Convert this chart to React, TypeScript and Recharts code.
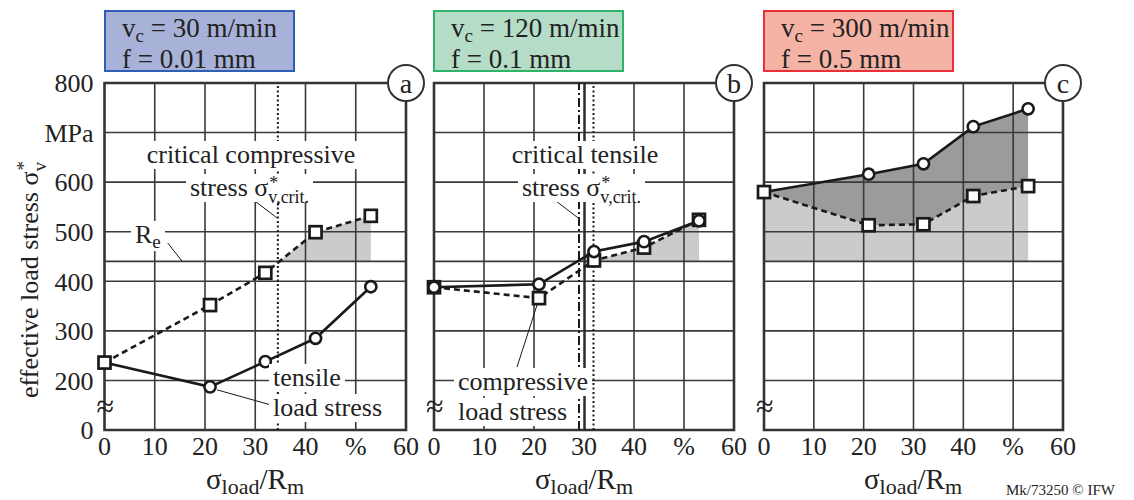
import React from "react";
import {
  ComposedChart,
  Line,
  Area,
  XAxis,
  YAxis,
  ReferenceLine,
  ReferenceArea,
  ReferenceDot,
} from "recharts";

const FONT = '"Liberation Serif", "DejaVu Serif", serif';
const INK = "#1a1a1a";
const GRID = "#3a3a3a";

// x positions: load stress ratio in %
const loadRatio = [0, 21, 32, 42, 53];

// effective load stress in MPa
const tensileA = [236, 187, 238, 285, 389];
const compressiveA = [236, 352, 417, 499, 532];
const tensileB = [388, 394, 460, 480, 522];
const compressiveB = [388, 366, 442, 468, 524];
const tensileC = [580, 616, 637, 712, 748];
const compressiveC = [580, 513, 515, 572, 592];

const xTicks = [0, 10, 20, 30, 40, 50, 60];
const yTicks = [100, 200, 300, 400, 500, 600, 700, 800];
const yieldStrength = 440; // R_e

const critA = 34.5;
const critB = [29.0, 30.2, 31.9];

const toRows = (tens: number[], comp: number[]) =>
  loadRatio.map((x, i) => ({ x, tens: tens[i], comp: comp[i] }));

const Square = (props: any) => {
  const { cx, cy } = props;
  if (cx == null || cy == null) return null;
  return (
    <rect
      key={`sq-${cx}-${cy}`}
      x={cx - 6}
      y={cy - 6}
      width={12}
      height={12}
      fill="#fff"
      stroke={INK}
      strokeWidth={2.7}
    />
  );
};

const circleDot = { r: 5.6, fill: "#fff", stroke: INK, strokeWidth: 2.6 };

interface PanelProps {
  left: number;
  width: number;
  marginLeft: number;
  marginRight: number;
  showY: boolean;
  rows: { x: number; tens: number; comp: number }[];
  letter: string;
  darkBand?: boolean;
  circlesOnTop?: boolean;
  children?: React.ReactNode;
}

function Panel({ left, width, marginLeft, marginRight, showY, rows, letter, darkBand, circlesOnTop, children }: PanelProps) {
  const tensLine = (
    <Line
      key="tens"
      dataKey="tens"
      stroke={INK}
      strokeWidth={2.6}
      dot={circleDot}
      activeDot={false}
      isAnimationActive={false}
    />
  );
  const compLine = (
    <Line
      key="comp"
      dataKey="comp"
      stroke={INK}
      strokeWidth={2.6}
      strokeDasharray="6 4"
      dot={<Square />}
      activeDot={false}
      isAnimationActive={false}
    />
  );
  return (
    <div style={{ position: "absolute", left, top: 0 }}>
      <ComposedChart
        width={width}
        height={500}
        data={rows}
        margin={{ top: 83, right: marginRight, bottom: 40, left: marginLeft }}
      >
        <XAxis
          type="number"
          dataKey="x"
          domain={[0, 60]}
          ticks={xTicks}
          tickFormatter={(v) => (v === 50 ? "%" : String(v))}
          axisLine={false}
          tickLine={false}
          tickSize={0}
          tickMargin={7}
          height={30}
          tick={{ fill: "#222", fontSize: 26, fontFamily: FONT }}
        />
        <YAxis
          type="number"
          domain={[100, 800]}
          ticks={yTicks}
          hide={!showY}
          width={showY ? 60 : 0}
          tickFormatter={(v) => (v === 100 ? "0" : v === 700 ? "MPa" : String(v))}
          axisLine={false}
          tickLine={false}
          tickSize={0}
          tickMargin={11}
          tick={{ fill: "#222", fontSize: 26, fontFamily: FONT }}
        />
        <Area
          dataKey="comp"
          baseValue={yieldStrength}
          fill="#cbcbcb"
          fillOpacity={1}
          stroke="none"
          isAnimationActive={false}
          activeDot={false}
        />
        {darkBand ? (
          <Area
            dataKey={(d: any) => [d.comp, d.tens]}
            fill="#9b9b9b"
            fillOpacity={1}
            stroke="none"
            isAnimationActive={false}
            activeDot={false}
          />
        ) : null}
        <ReferenceArea x1={0} x2={60} y1={100} y2={yieldStrength} fill="#fff" fillOpacity={1} stroke="none" />
        {yTicks.slice(1, -1).map((t) => (
          <ReferenceLine key={`h${t}`} y={t} stroke={GRID} strokeWidth={1.6} />
        ))}
        {xTicks.slice(1, -1).map((t) => (
          <ReferenceLine key={`v${t}`} x={t} stroke={GRID} strokeWidth={1.6} />
        ))}
        <ReferenceLine y={yieldStrength} stroke={GRID} strokeWidth={1.8} />
        <ReferenceArea x1={0} x2={60} y1={100} y2={800} fill="none" stroke="#333" strokeWidth={2.6} />
        {children}
        {circlesOnTop ? [compLine, tensLine] : [tensLine, compLine]}
        <ReferenceDot
          x={60}
          y={800}
          r={18}
          fill="#fff"
          fillOpacity={1}
          stroke="#333"
          strokeWidth={2}
          label={{ value: letter, position: "center", fontSize: 28, fill: "#222", fontFamily: FONT }}
        />
      </ComposedChart>
    </div>
  );
}

const SubSup = ({ sub, sup, size }: { sub: string; sup?: string; size: number }) => (
  <span style={{ display: "inline-block", position: "relative", fontSize: size, lineHeight: 1 }}>
    <span style={{ position: "relative", top: "0.4em" }}>{sub}</span>
    {sup ? (
      <span style={{ position: "absolute", left: 1, top: "-0.4em" }}>{sup}</span>
    ) : null}
  </span>
);

const label = (x: number, y: number, children: React.ReactNode, center = false) => (
  <div
    style={{
      position: "absolute",
      left: x,
      top: y - 14,
      transform: center ? "translateX(-50%)" : undefined,
      background: "#fff",
      padding: "0 4px",
      fontSize: 26,
      lineHeight: "28px",
      whiteSpace: "nowrap",
      color: "#222",
    }}
  >
    {children}
  </div>
);

const header = (x: number, bg: string, border: string, v: string, f: string) => (
  <div
    style={{
      position: "absolute",
      left: x,
      top: 10,
      width: 191,
      height: 62,
      background: bg,
      border: `2px solid ${border}`,
      fontSize: 27,
      lineHeight: "28px",
      padding: "2px 0 0 16px",
      boxSizing: "border-box",
      color: "#222",
      whiteSpace: "nowrap",
    }}
  >
    <div>
      v<span style={{ fontSize: 19, position: "relative", top: 5 }}>c</span> = {v}
    </div>
    <div>f = {f}</div>
  </div>
);

const xTitle = (cx: number) => (
  <div
    style={{
      position: "absolute",
      left: cx,
      top: 464,
      transform: "translateX(-50%)",
      fontSize: 29,
      lineHeight: "30px",
      whiteSpace: "nowrap",
      color: "#222",
    }}
  >
    σ<span style={{ fontSize: 22, position: "relative", top: 5 }}>load</span>/R
    <span style={{ fontSize: 22, position: "relative", top: 5 }}>m</span>
  </div>
);

const breakMark = (x: number) => (
  <div
    style={{
      position: "absolute",
      left: x - 8,
      top: 390,
      fontSize: 32,
      lineHeight: "32px",
      color: "#222",
    }}
  >
    ≈
  </div>
);

const critLabel = (
  <>
    stress σ<SubSup sub="v,crit." sup="*" size={18} />
  </>
);

export default function App() {
  return (
    <div
      style={{
        position: "absolute",
        left: 0,
        top: 0,
        width: 1134,
        height: 500,
        background: "#fff",
        fontFamily: FONT,
        overflow: "hidden",
      }}
    >
      <Panel left={0} width={440} marginLeft={44.5} marginRight={34} showY rows={toRows(tensileA, compressiveA)} letter="a">
        <ReferenceLine x={critA} stroke={INK} strokeWidth={2} strokeDasharray="2 2.5" />
        <ReferenceLine segment={[{ x: 29.4, y: 566 }, { x: 34.3, y: 528 }]} stroke={INK} strokeWidth={1} />
        <ReferenceLine segment={[{ x: 12.6, y: 477 }, { x: 15.4, y: 441 }]} stroke={INK} strokeWidth={1} />
        <ReferenceLine segment={[{ x: 22.4, y: 181 }, { x: 33.3, y: 150 }]} stroke={INK} strokeWidth={1} />
      </Panel>
      <Panel left={400} width={370} marginLeft={34} marginRight={36} showY={false} rows={toRows(tensileB, compressiveB)} letter="b" circlesOnTop>
        <ReferenceLine x={critB[0]} stroke={INK} strokeWidth={2} strokeDasharray="9 3 2 3" />
        <ReferenceLine x={critB[1]} stroke={INK} strokeWidth={1.4} />
        <ReferenceLine x={critB[2]} stroke={INK} strokeWidth={2} strokeDasharray="2 2.5" />
        <ReferenceLine segment={[{ x: 23.6, y: 568 }, { x: 28.8, y: 528 }]} stroke={INK} strokeWidth={1} />
        <ReferenceLine segment={[{ x: 20.6, y: 352 }, { x: 16.6, y: 227 }]} stroke={INK} strokeWidth={1} />
      </Panel>
      <Panel left={730} width={370} marginLeft={34} marginRight={37} showY={false} rows={toRows(tensileC, compressiveC)} letter="c" darkBand />

      {header(104, "#a8b2d8", "#2f5fb3", "30 m/min", "0.01 mm")}
      {header(433, "#b5dcc6", "#2fb36a", "120 m/min", "0.1 mm")}
      {header(763, "#f5b3a5", "#e8303a", "300 m/min", "0.5 mm")}

      <div
        style={{
          position: "absolute",
          left: 30,
          top: 280,
          transform: "translate(-50%, -50%) rotate(-90deg)",
          fontSize: 26,
          lineHeight: "26px",
          whiteSpace: "nowrap",
          color: "#222",
        }}
      >
        effective load stress σ<SubSup sub="v" sup="*" size={19} />
      </div>

      {label(251, 155, "critical compressive", true)}
      {label(186, 188, critLabel)}
      {label(131, 235, <>R<span style={{ fontSize: 19, position: "relative", top: 5 }}>e</span></>)}
      {label(269, 378, "tensile")}
      {label(269, 408, "load stress")}

      {label(585, 155, "critical tensile", true)}
      {label(518, 188, critLabel)}
      {label(454, 382, "compressive")}
      {label(454, 412, "load stress")}

      {breakMark(104.5)}
      {breakMark(434)}
      {breakMark(764)}

      {xTitle(255)}
      {xTitle(584)}
      {xTitle(913)}

      <div style={{ position: "absolute", left: 1006, top: 482, fontSize: 15, color: "#222", whiteSpace: "nowrap" }}>
        Mk/73250 © IFW
      </div>
    </div>
  );
}
